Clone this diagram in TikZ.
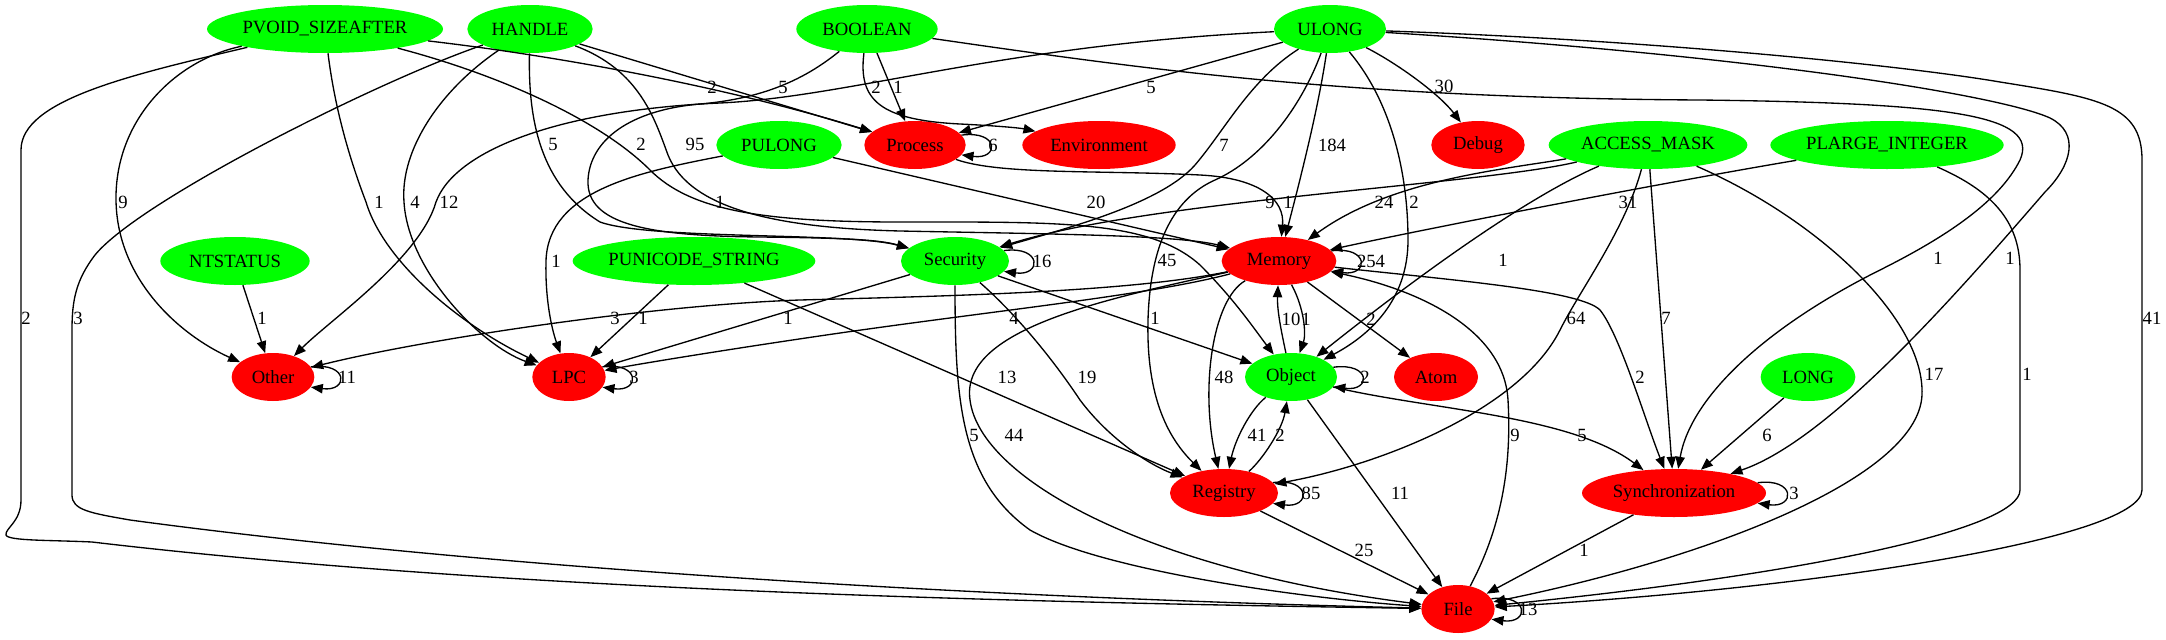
\documentclass[tikz,border=0pt]{standalone}
\usepackage{fontspec}
\setmainfont{Liberation Serif}
\usetikzlibrary{arrows.meta,shapes.geometric}

\begin{document}
\begin{tikzpicture}[x=0.75pt, y=-0.75pt,
  every node/.style={font=\fontsize{14}{16}\selectfont},
  typ/.style={ellipse, fill=green, inner sep=0pt, minimum height=36pt},
  cat/.style={ellipse, fill=red, inner sep=0pt, minimum height=36pt},
  edge/.style={line width=1pt, -{Triangle[length=9pt, width=7pt]}},
  lbl/.style={inner sep=0pt}]
  \useasboundingbox (0,0) rectangle (2166,639);

  \node[typ, minimum width=177pt] (pvoid) at (325,29) {PVOID\_SIZEAFTER};
  \node[typ, minimum width=94pt] (handle) at (530,29) {HANDLE};
  \node[typ, minimum width=106pt] (boolean) at (867,29) {BOOLEAN};
  \node[typ, minimum width=84pt] (ulong) at (1330,29) {ULONG};
  \node[typ, minimum width=94pt] (pulong) at (779,145) {PULONG};
  \node[cat, minimum width=76pt] (process) at (915,145) {Process};
  \node[cat, minimum width=115pt] (environment) at (1099,145) {Environment};
  \node[cat, minimum width=70pt] (debug) at (1478,145) {Debug};
  \node[typ, minimum width=149pt] (accessmask) at (1648,145) {ACCESS\_MASK};
  \node[typ, minimum width=175pt] (plarge) at (1887,145) {PLARGE\_INTEGER};
  \node[typ, minimum width=112pt] (ntstatus) at (235,261) {NTSTATUS};
  \node[typ, minimum width=182pt] (punicode) at (694,261) {PUNICODE\_STRING};
  \node[typ, minimum width=81pt] (security) at (955,261) {Security};
  \node[cat, minimum width=86pt] (memory) at (1279,261) {Memory};
  \node[cat, minimum width=62pt] (other) at (273,377) {Other};
  \node[cat, minimum width=55pt] (lpc) at (569,377) {LPC};
  \node[typ, minimum width=69pt] (object) at (1291,377) {Object};
  \node[cat, minimum width=63pt] (atom) at (1436,377) {Atom};
  \node[typ, minimum width=71pt] (long) at (1808,377) {LONG};
  \node[cat, minimum width=81pt] (registry) at (1224,493) {Registry};
  \node[cat, minimum width=138pt] (sync) at (1674,493) {Synchronization};
  \node[cat, minimum width=55pt] (file) at (1458,609) {File};

  \draw[edge] (pvoid) .. controls (130,75) and (21,100) .. (21,150) -- (21,500) .. controls (21,522) and (5,528) .. (6,535) .. controls (8,541) and (50,540) .. (92,542) .. controls (500,590) and (1000,602) .. (file) node[lbl] at (26,318) {2};
  \draw[edge] (pvoid) .. controls (175,60) and (115,120) .. (116,200) .. controls (117,280) and (180,335) .. (other) node[lbl] at (123,202) {9};
  \draw[edge] (pvoid) .. controls (335,110) and (350,160) .. (366,202) .. controls (384,262) and (460,325) .. (lpc) node[lbl] at (379,202) {1};
  \draw[edge] (pvoid) .. controls (550,55) and (720,85) .. (process) node[lbl] at (712,87) {2};
  \draw[edge] (pvoid) .. controls (500,75) and (600,120) .. (650,170) .. controls (690,210) and (760,222) .. (900,222) .. controls (1060,222) and (1150,220) .. (1200,265) .. controls (1235,300) and (1255,330) .. (object) node[lbl] at (720,202) {1};

  \draw[edge] (handle) .. controls (380,80) and (140,200) .. (95,255) .. controls (76,280) and (72,300) .. (72,330) -- (72,495) .. controls (72,510) and (90,513) .. (130,520) .. controls (500,570) and (1000,598) .. (file) node[lbl] at (78,318) {3};
  \draw[edge] (handle) .. controls (440,90) and (400,150) .. (404,202) .. controls (408,270) and (480,345) .. (lpc) node[lbl] at (415,202) {4};
  \draw[edge] (handle) .. controls (528,120) and (540,185) .. (600,222) .. controls (650,240) and (850,232) .. (security) node[lbl] at (553,144) {5};
  \draw[edge] (handle) -- (process) node[lbl] at (783,87) {5};
  \draw[edge] (handle) .. controls (640,70) and (655,120) .. (668,155) .. controls (690,210) and (780,228) .. (900,231) .. controls (1050,234) and (1180,235) .. (memory) node[lbl] at (695,144) {95};

  \draw[edge] (boolean) -- (process) node[lbl] at (898,87) {1};
  \draw[edge] (boolean) .. controls (858,100) and (880,120) .. (960,124) .. controls (1000,126) and (1020,128) .. (environment) node[lbl] at (876,87) {2};
  \draw[edge] (boolean) .. controls (810,75) and (770,98) .. (700,104) .. controls (630,110) and (590,140) .. (588,180) .. controls (586,225) and (650,236) .. (760,237) .. controls (850,238) and (880,240) .. (security) node[lbl] at (641,144) {2};
  \draw[edge] (boolean) .. controls (1150,70) and (1350,98) .. (1700,100) .. controls (1950,103) and (2040,115) .. (2020,160) .. controls (2000,200) and (1950,235) .. (1880,270) .. controls (1760,330) and (1690,400) .. (sync) node[lbl] at (1938,258) {1};

  \draw[edge] (ulong) .. controls (1000,45) and (850,97) .. (720,103) .. controls (560,110) and (455,150) .. (436,202) .. controls (420,258) and (330,320) .. (other) node[lbl] at (449,202) {12};
  \draw[edge] (ulong) -- (process) node[lbl] at (1151,87) {5};
  \draw[edge] (ulong) .. controls (1250,80) and (1225,130) .. (1195,165) .. controls (1160,205) and (1060,230) .. (security) node[lbl] at (1224,145) {7};
  \draw[edge] (ulong) .. controls (1318,110) and (1300,180) .. (memory) node[lbl] at (1332,145) {184};
  \draw[edge] (ulong) .. controls (1300,110) and (1260,160) .. (1215,180) .. controls (1170,200) and (1150,250) .. (1148,320) .. controls (1146,400) and (1170,440) .. (registry) node[lbl] at (1167,260) {45};
  \draw[edge] (ulong) .. controls (1390,100) and (1408,170) .. (1408,240) .. controls (1408,300) and (1370,335) .. (object) node[lbl] at (1414,202) {2};
  \draw[edge] (ulong) .. controls (1400,65) and (1440,95) .. (debug) node[lbl] at (1444,86) {30};
  \draw[edge] (ulong) .. controls (1750,55) and (2000,95) .. (2050,118) .. controls (2080,133) and (2072,165) .. (2045,192) .. controls (1960,290) and (1830,440) .. (sync) node[lbl] at (2010,258) {1};
  \draw[edge] (ulong) .. controls (1650,40) and (1900,65) .. (2000,82) .. controls (2100,98) and (2142,105) .. (2142,160) -- (2142,490) .. controls (2142,540) and (1800,590) .. (file) node[lbl] at (2152,318) {41};

  \draw[edge] (pulong) -- (memory) node[lbl] at (1096,202) {20};
  \draw[edge] (pulong) .. controls (640,172) and (548,190) .. (546,261) .. controls (545,300) and (552,330) .. (lpc) node[lbl] at (556,261) {1};

  \draw[edge] (process) .. controls (1000,175) and (1100,170) .. (1200,175) .. controls (1260,178) and (1285,200) .. (memory) node[lbl] at (1288,202) {1};
  \draw[edge] (process.12) .. controls +(38,-5) and +(38,5) .. (process.-12) node[lbl] at (993,145) {6};

  \draw[edge] (accessmask) .. controls (1480,185) and (1150,200) .. (security) node[lbl] at (1270,202) {9};
  \draw[edge] (accessmask) .. controls (1500,170) and (1390,180) .. (memory) node[lbl] at (1384,202) {24};
  \draw[edge] (accessmask) .. controls (1520,200) and (1400,290) .. (object) node[lbl] at (1503,260) {1};
  \draw[edge] (accessmask) .. controls (1625,230) and (1580,290) .. (1560,330) .. controls (1520,410) and (1380,465) .. (registry) node[lbl] at (1576,318) {64};
  \draw[edge] (accessmask) -- (sync) node[lbl] at (1666,318) {7};
  \draw[edge] (accessmask) .. controls (1820,220) and (1925,320) .. (1922,395) .. controls (1918,480) and (1700,560) .. (file) node[lbl] at (1934,374) {17};

  \draw[edge] (plarge) .. controls (1650,185) and (1420,230) .. (memory) node[lbl] at (1628,202) {31};
  \draw[edge] (plarge) .. controls (1990,190) and (2020,220) .. (2020,270) -- (2020,490) .. controls (2020,530) and (1800,575) .. (file) node[lbl] at (2027,374) {1};

  \draw[edge] (ntstatus) -- (other) node[lbl] at (262,318) {1};
  \draw[edge] (punicode) -- (lpc) node[lbl] at (643,318) {1};
  \draw[edge] (punicode) -- (registry) node[lbl] at (1007,377) {13};

  \draw[edge] (security.12) .. controls +(38,-5) and +(38,5) .. (security.-12) node[lbl] at (1042,261) {16};
  \draw[edge] (security) -- (lpc) node[lbl] at (788,318) {1};
  \draw[edge] (security) -- (object) node[lbl] at (1155,318) {1};
  \draw[edge] (security) .. controls (1000,300) and (1040,340) .. (1080,400) .. controls (1110,440) and (1150,465) .. (registry) node[lbl] at (1087,377) {19};
  \draw[edge] (security) .. controls (955,400) and (960,480) .. (1030,530) .. controls (1100,570) and (1300,598) .. (file) node[lbl] at (974,435) {5};

  \draw[edge] (memory.11) .. controls +(38,-5) and +(38,5) .. (memory.-11) node[lbl] at (1371,261) {254};
  \draw[edge] (memory) .. controls (1130,292) and (950,296) .. (800,300) .. controls (650,305) and (420,340) .. (other) node[lbl] at (615,318) {3};
  \draw[edge] (memory) .. controls (1150,295) and (1000,310) .. (840,333) .. controls (750,346) and (650,362) .. (lpc) node[lbl] at (1014,318) {4};
  \draw[edge] (memory) .. controls (1100,300) and (960,330) .. (970,400) .. controls (980,480) and (1150,570) .. (file) node[lbl] at (1014,435) {44};
  \draw[edge] (memory) .. controls (1212,300) and (1200,390) .. (registry) node[lbl] at (1224,377) {48};
  \draw[edge] (memory) .. controls (1305,310) and (1306,335) .. (object) node[lbl] at (1306,319) {1};
  \draw[edge] (memory) -- (atom) node[lbl] at (1371,319) {2};
  \draw[edge] (memory) .. controls (1450,280) and (1580,290) .. (1600,310) .. controls (1620,335) and (1645,420) .. (sync) node[lbl] at (1640,377) {2};

  \draw[edge] (object.13) .. controls +(38,-5) and +(38,5) .. (object.-13) node[lbl] at (1365,377) {2};
  \draw[edge] (object) .. controls (1281,330) and (1277,310) .. (memory) node[lbl] at (1291,319) {10};
  \draw[edge] (object) .. controls (1250,410) and (1235,440) .. (registry) node[lbl] at (1257,435) {41};
  \draw[edge] (object) -- (file) node[lbl] at (1400,493) {11};
  \draw[edge] (object) .. controls (1430,410) and (1570,415) .. (sync) node[lbl] at (1582,435) {5};

  \draw[edge] (registry.12) .. controls +(38,-5) and +(38,5) .. (registry.-12) node[lbl] at (1311,493) {85};
  \draw[edge] (registry) .. controls (1262,460) and (1282,430) .. (object) node[lbl] at (1280,435) {2};
  \draw[edge] (registry) -- (file) node[lbl] at (1364,550) {25};

  \draw[edge] (long) -- (sync) node[lbl] at (1767,435) {6};
  \draw[edge] (sync.7) .. controls +(38,-5) and +(38,5) .. (sync.-7) node[lbl] at (1794,493) {3};
  \draw[edge] (sync) -- (file) node[lbl] at (1584,550) {1};

  \draw[edge] (file.17) .. controls +(38,-5) and +(38,5) .. (file.-17) node[lbl] at (1528,609) {13};
  \draw[edge] (file) .. controls (1500,530) and (1512,470) .. (1508,400) .. controls (1504,330) and (1420,290) .. (memory) node[lbl] at (1515,435) {9};

  \draw[edge] (other.15) .. controls +(38,-5) and +(38,5) .. (other.-15) node[lbl] at (347,377) {11};
  \draw[edge] (lpc.17) .. controls +(38,-5) and +(38,5) .. (lpc.-17) node[lbl] at (634,377) {3};
\end{tikzpicture}
\end{document}
